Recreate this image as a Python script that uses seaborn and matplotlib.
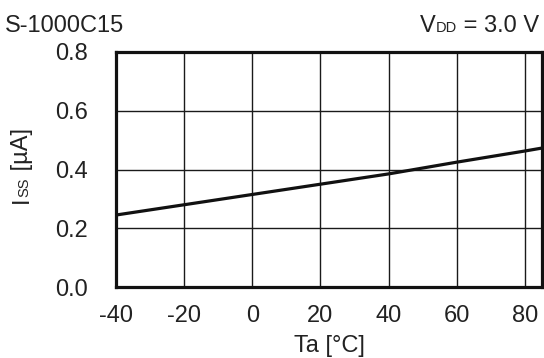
import matplotlib
matplotlib.use('Agg')
import numpy as np
import pandas as pd
import matplotlib.pyplot as plt
import seaborn as sns

# Chart data
temp = [-40, -20, 0, 20, 40, 60, 80, 85]
iss = [0.245, 0.280, 0.315, 0.350, 0.385, 0.425, 0.463, 0.473]
x_ticks = [-40, -20, 0, 20, 40, 60, 80]
y_ticks = [0.0, 0.2, 0.4, 0.6, 0.8]
y_tick_labels = ['0.0', '0.2', '0.4', '0.6', '0.8']

sns.set_theme(style='white')
plt.rcParams['font.family'] = ['Liberation Sans', 'DejaVu Sans']
plt.rcParams['axes.unicode_minus'] = False

W, H = 544, 358
fig = plt.figure(figsize=(W / 100, H / 100), dpi=100)
ax = fig.add_axes([116 / W, 1 - 287 / H, (542 - 116) / W, (287 - 52) / H])

df = pd.DataFrame({'Ta': temp, 'Iss': iss})
sns.lineplot(data=df, x='Ta', y='Iss', color='#111111', linewidth=2.3, ax=ax, zorder=3)

ax.set_xlim(-40, 85)
ax.set_ylim(0, 0.8)
ax.set_xticks(x_ticks)
ax.set_yticks(y_ticks)
ax.set_yticklabels(y_tick_labels)
ax.grid(True, color='#1a1a1a', linewidth=1.0)
ax.tick_params(axis='both', length=0, labelsize=17, colors='#222222')
ax.tick_params(axis='y', pad=20)
ax.tick_params(axis='x', pad=13)
for s in ax.spines.values():
    s.set_color('#111111')
    s.set_linewidth(2.3)
    s.set_visible(True)

ax.set_xlabel('Ta [\u00b0C]', fontsize=17, color='#222222', labelpad=6)
ax.set_ylabel('')

big = 17
small = 10.5

# title left
fig.text(5 / W, 1 - 32 / H, 'S-1000C15', fontsize=big, ha='left', va='baseline', color='#222222')

# V_DD = 3.0 V (right aligned)
ty = 1 - 32 / H
t3 = fig.text(539 / W, ty, ' = 3.0 V', fontsize=big, ha='right', va='baseline', color='#222222')
t2 = ax.annotate('DD', xy=(0, ty), xycoords=(t3, 'figure fraction'), fontsize=small,
                 ha='right', va='baseline', color='#222222', annotation_clip=False)
t1 = ax.annotate('V', xy=(0, ty), xycoords=(t2, 'figure fraction'), fontsize=big,
                 ha='right', va='baseline', color='#222222', annotation_clip=False)

# rotated y label: I_SS [uA]
lx = 28 / W
l1 = fig.text(lx, 1 - 203 / H, 'I', fontsize=big, rotation=90, rotation_mode='anchor',
              ha='left', va='baseline', color='#222222')
l2 = ax.annotate('SS', xy=(lx, 1), xycoords=('figure fraction', l1), fontsize=small,
                 rotation=90, rotation_mode='anchor', ha='left', va='baseline',
                 color='#222222', annotation_clip=False)
l3 = ax.annotate(' [\u00b5A]', xy=(lx, 1), xycoords=('figure fraction', l2), fontsize=big,
                 rotation=90, rotation_mode='anchor', ha='left', va='baseline',
                 color='#222222', annotation_clip=False)

fig.savefig('out.png', dpi=100)
